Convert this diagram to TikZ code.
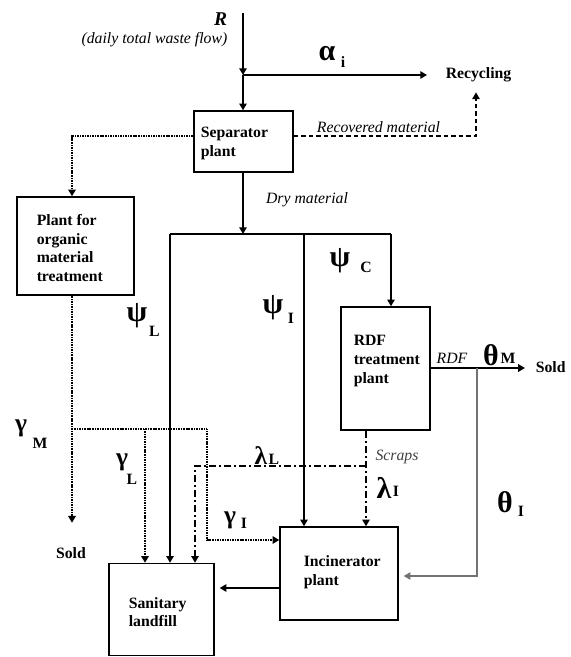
\documentclass[tikz,border=0pt]{standalone}
\usepackage{fontspec}
\setmainfont{Liberation Serif}
\usetikzlibrary{arrows.meta}
\begin{document}
\begin{tikzpicture}[x=0.6667pt,y=-0.6667pt,
  line width=1pt,
  tip/.style={-{Triangle[length=4.5pt,width=5pt]}},
  box/.style={draw,line width=1pt,inner sep=0,rectangle},
  lab/.style={font=\fontsize{10.5}{12.5}\selectfont\bfseries,align=left,inner sep=0},
  itl/.style={font=\fontsize{10.5}{12.5}\selectfont\itshape,inner sep=0},
  gk/.style={font=\fontsize{20}{20}\selectfont\bfseries,inner sep=0},
  gks/.style={font=\fontsize{17}{17}\selectfont\bfseries,inner sep=0},
  sb/.style={font=\fontsize{10.5}{10.5}\selectfont\bfseries,inner sep=0},
  dotline/.style={line width=1.1pt,dash pattern=on 0.7pt off 0.4pt},
  dshline/.style={dash pattern=on 3pt off 2pt},
  ddline/.style={dash pattern=on 5pt off 2pt on 1pt off 2pt},
  grayline/.style={draw=black!55,line width=0.75pt}]
\useasboundingbox (0,0) rectangle (571,657);

% boxes
\node[box,minimum width={99*0.6667pt},minimum height={61*0.6667pt}] (sep) at (243.5,141.5) {};
\node[box,minimum width={117*0.6667pt},minimum height={98*0.6667pt}] (org) at (75.5,246) {};
\node[box,minimum width={89*0.6667pt},minimum height={123*0.6667pt}] (rdf) at (385.5,368.5) {};
\node[box,minimum width={118*0.6667pt},minimum height={93*0.6667pt}] (inc) at (339,573.5) {};
\node[box,minimum width={105*0.6667pt},minimum height={92*0.6667pt}] (lf) at (161.5,609.5) {};

% box texts
\node[lab,anchor=west] (septxt) at (200,143.5) {Separator\\plant};
\node[lab,anchor=west] (orgtxt) at (36,248) {Plant for\\organic\\material\\treatment};
\node[lab,anchor=west] (rdftxt) at (353,361) {RDF\\treatment\\plant};
\node[lab,anchor=west] (inctxt) at (303,572.5) {Incinerator\\plant};
\node[lab,anchor=west] (lftxt) at (128,612) {Sanitary\\landfill};

% other texts
\node[font=\fontsize{13}{13}\selectfont\bfseries\itshape,inner sep=0,anchor=east] (R) at (228,19) {R};
\node[itl,anchor=east] (daily) at (228,40) {(daily total waste flow)};
\node[lab,anchor=west] (rec) at (445,75) {Recycling};
\node[itl] (recov) at (378.5,127) {Recovered material};
\node[itl] (dry) at (307,200) {Dry material};
\node[itl] (rdflab) at (452,358) {RDF};
\node[itl,text=black!75] (scraps) at (397,457) {Scraps};
\node[lab] (sold1) at (71,553) {Sold};
\node[lab,anchor=west] (sold2) at (535,367) {Sold};

% greek labels
\node[gk] (al) at (327,54) {α};   \node[sb] (als) at (343,62) {i};
\node[gk] (psL) at (137,316) {ψ}; \node[sb] (psLs) at (154.5,331) {L};
\node[gk] (psI) at (273,308) {ψ}; \node[sb] (psIs) at (291,318) {I};
\node[gk] (psC) at (340,261) {ψ}; \node[sb] (psCs) at (366,267) {C};
\node[gk] (thM) at (491,355) {θ}; \node[sb] (thMs) at (508,358) {M};
\node[gk] (thI) at (505,502) {θ}; \node[sb] (thIs) at (521,511) {I};
\node[gks] (laL) at (261,456) {λ}; \node[sb] (laLs) at (274,459) {L};
\node[gk] (laI) at (384,488) {λ}; \node[sb] (laIs) at (396,491) {I};
\node[gks] (gaM) at (21,428) {γ}; \node[sb] (gaMs) at (40,443) {M};
\node[gks] (gaL) at (122,462) {γ}; \node[sb] (gaLs) at (132,479) {L};
\node[gks] (gaI) at (230,520) {γ}; \node[sb] (gaIs) at (244,523) {I};

% coordinates
\coordinate (rtop) at (243,13);
\coordinate (j) at (243,75);
\coordinate (rc) at (476,136);
\coordinate (a1) at (72,136);
\coordinate (d1) at (170,234);
\coordinate (d2) at (304,234);
\coordinate (d3) at (391,234);
\coordinate (g1) at (72,429);
\coordinate (g2) at (145,429);
\coordinate (g3) at (207,429);
\coordinate (g4) at (207,540);
\coordinate (l1) at (366,466);
\coordinate (l2) at (195,466);
\coordinate (t1) at (477,368);
\coordinate (t2) at (477,576);
\coordinate (b1) at (280,588);

% connectors
\draw[tip] (rtop) -- (j);
\draw[tip] (j) -- (j |- sep.north);
\draw[tip,shorten >=12pt] (j) -- (rec.west);
\draw[dshline,tip] (rc -| sep.east) -- (rc) -- ([yshift=-6.3pt]rc |- rec.south);
\draw[dotline,tip] (a1 -| sep.west) -- (a1) -- (a1 |- org.north);
\draw[tip] (j |- sep.south) -- (j |- d1);
\draw (d1) -- (d3);
\draw[tip] (d3) -- (d3 |- rdf.north);
\draw[tip] (d1) -- (d1 |- lf.north);
\draw[tip] (d2) -- (d2 |- inc.north);
\draw[dotline,tip,shorten >=16pt] (a1 |- org.south) -- (a1 |- sold1.north);
\draw[dotline,tip] (g1) -- (g3) -- (g4) -- (g4 -| inc.west);
\draw[dotline,tip] (g2) -- (g2 |- lf.north);
\draw[ddline,tip] (l1 |- rdf.south) -- (l1 |- inc.north);
\draw[ddline,tip] (l1) -- (l2) -- (l2 |- lf.north);
\draw[tip,shorten >=6.7pt] (rdf.east |- t1) -- (t1 -| sold2.west);
\draw[grayline,tip,shorten >=3.3pt] (t1) -- (t2) -- (t2 -| inc.east);
\draw[tip,shorten >=3.3pt] (b1) -- (b1 -| lf.east);
\end{tikzpicture}
\end{document}
